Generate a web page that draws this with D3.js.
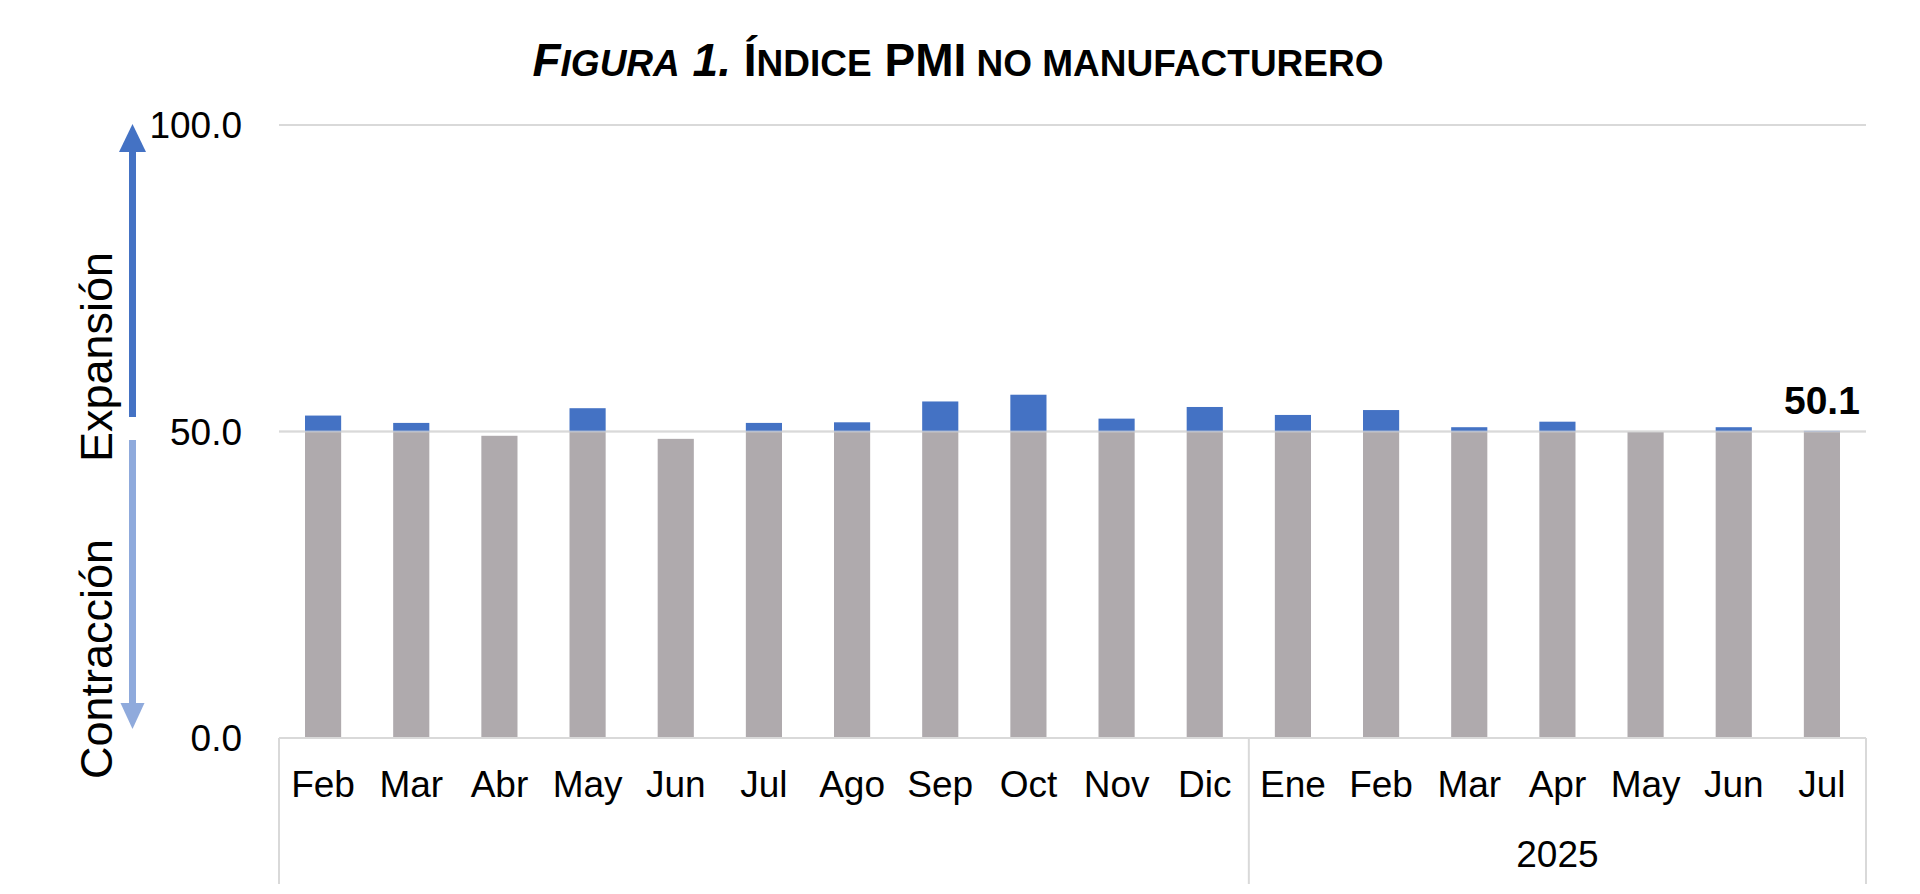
<!DOCTYPE html>
<html><head><meta charset="utf-8">
<script src="https://cdn.jsdelivr.net/npm/d3@7"></script>
<style>
html,body{margin:0;padding:0;background:#fff;}
svg{display:block;font-family:"Liberation Sans",Arial,sans-serif;}
</style></head>
<body>
<svg id="chart" width="1920" height="894"></svg>
<script>
// ---- data ----
const months = ["Feb","Mar","Abr","May","Jun","Jul","Ago","Sep","Oct","Nov","Dic","Ene","Feb","Mar","Apr","May","Jun","Jul"];
const years  = ["","","","","","","","","","","","2025","2025","2025","2025","2025","2025","2025"];
const pmi    = [52.6,51.4,49.3,53.8,48.8,51.4,51.5,54.9,56.0,52.1,54.0,52.7,53.5,50.7,51.6,49.9,50.7,50.1];
const threshold = 50;
const yTicks = [0,50,100];
const lastLabel = "50.1";

// ---- layout ----
const svg = d3.select("#chart");
const L = 279, R = 1866, T = 125, B = 738;
const x = d3.scaleBand().domain(d3.range(months.length)).range([L,R]).paddingInner(0.59).paddingOuter(0.295);
const y = d3.scaleLinear().domain([0,100]).range([B,T]);
const step = x.step();
const gray = "#AFAAAD", blue = "#4472C4", grid = "#D9D9D9";

// title
const title = svg.append("text").attr("x",958).attr("y",76).attr("text-anchor","middle")
  .attr("font-weight","bold").attr("font-size",46).attr("fill","#000");
title.append("tspan").attr("font-style","italic").text("F");
title.append("tspan").attr("font-style","italic").attr("font-size",37).text("IGURA");
title.append("tspan").attr("font-style","italic").text(" 1.");
title.append("tspan").text(" Í");
title.append("tspan").attr("font-size",37).text("NDICE");
title.append("tspan").text(" PMI");
title.append("tspan").attr("font-size",37).text(" NO MANUFACTURERO");

// gridlines
svg.append("g").selectAll("line").data(yTicks.filter(d=>d>0)).join("line")
  .attr("x1",L).attr("x2",R).attr("y1",d=>y(d)).attr("y2",d=>y(d))
  .attr("stroke",grid).attr("stroke-width",2);

// y axis labels
const yAxis = d3.axisLeft(y).tickValues(yTicks).tickFormat(d3.format(".1f")).tickSize(0).tickPadding(37);
const gy = svg.append("g").attr("transform",`translate(${L},0)`).call(yAxis);
gy.select(".domain").remove();
gy.selectAll("text").attr("font-size",37).attr("fill","#000").attr("font-family","Liberation Sans, Arial, sans-serif").attr("dy","0.35em");

// bars: gray part (up to threshold), blue part (above threshold)
svg.append("g").selectAll("rect").data(pmi).join("rect")
  .attr("x",(d,i)=>x(i)).attr("width",x.bandwidth())
  .attr("y",d=>y(Math.min(d,threshold))).attr("height",d=>y(0)-y(Math.min(d,threshold)))
  .attr("fill",gray);
svg.append("g").selectAll("rect").data(pmi).join("rect")
  .attr("x",(d,i)=>x(i)).attr("width",x.bandwidth())
  .attr("y",d=>y(Math.max(d,threshold))).attr("height",d=>y(threshold)-y(Math.max(d,threshold)))
  .attr("fill",blue);

// 50 gridline drawn over bars lightly
svg.append("line").attr("x1",L).attr("x2",R).attr("y1",y(threshold)).attr("y2",y(threshold))
  .attr("stroke",grid).attr("stroke-width",2).attr("opacity",0.6);

// x axis base line
svg.append("line").attr("x1",L).attr("x2",R).attr("y1",y(0)).attr("y2",y(0)).attr("stroke",grid).attr("stroke-width",2);

// month labels
svg.append("g").selectAll("text").data(months).join("text")
  .attr("x",(d,i)=>x(i)+x.bandwidth()/2).attr("y",797).attr("text-anchor","middle")
  .attr("font-size",37).attr("fill","#000").text(d=>d);

// year group separators and labels
const groups = [];
years.forEach((yr,i)=>{
  if(i===0 || yr!==years[i-1]) groups.push({label:yr,start:i,end:i});
  else groups[groups.length-1].end=i;
});
const bounds = [L].concat(groups.map(g=>L+(g.end+1)*step));
svg.append("g").selectAll("line").data(bounds).join("line")
  .attr("x1",d=>d).attr("x2",d=>d).attr("y1",y(0)).attr("y2",884)
  .attr("stroke",grid).attr("stroke-width",2);
svg.append("g").selectAll("text").data(groups).join("text")
  .attr("x",g=>L+(g.start+g.end+1)/2*step).attr("y",867).attr("text-anchor","middle")
  .attr("font-size",37).attr("fill","#000").text(g=>g.label);

// last value label
const li = pmi.length-1;
svg.append("text").attr("x",x(li)+x.bandwidth()/2).attr("y",y(pmi[li])-17).attr("text-anchor","middle")
  .attr("font-size",39).attr("font-weight","bold").attr("fill","#000").text(lastLabel);

// expansion / contraction arrows
const ax = 132.5;
svg.append("line").attr("x1",ax).attr("x2",ax).attr("y1",417).attr("y2",150).attr("stroke","#4472C4").attr("stroke-width",7);
svg.append("path").attr("d",`M${ax},124 L${ax+13.5},152 L${ax-13.5},152 Z`).attr("fill","#4472C4");
svg.append("line").attr("x1",ax).attr("x2",ax).attr("y1",440).attr("y2",705).attr("stroke","#8FAADC").attr("stroke-width",7);
svg.append("path").attr("d",`M${ax},729 L${ax+12},703 L${ax-12},703 Z`).attr("fill","#8FAADC");

svg.append("text").attr("transform","translate(112,357) rotate(-90)").attr("text-anchor","middle")
  .attr("font-size",45).attr("fill","#000").text("Expansión");
svg.append("text").attr("transform","translate(112,659) rotate(-90)").attr("text-anchor","middle")
  .attr("font-size",45).attr("fill","#000").text("Contracción");
</script>
</body></html>
